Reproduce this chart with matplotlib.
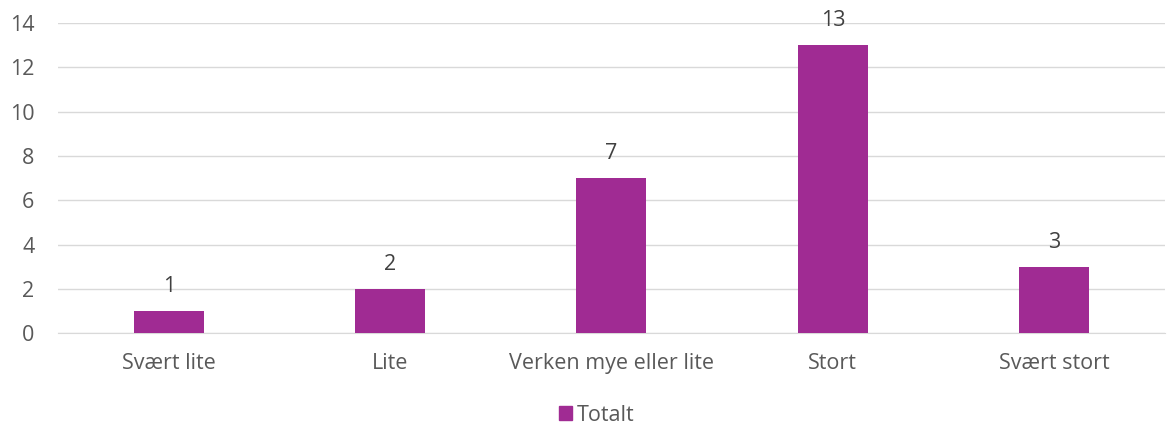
import matplotlib
matplotlib.use("Agg")
import matplotlib.pyplot as plt
from matplotlib.patches import Patch

categories = ["Svært lite", "Lite", "Verken mye eller lite", "Stort", "Svært stort"]
totalt = [1, 2, 7, 13, 3]
yticks = [0, 2, 4, 6, 8, 10, 12, 14]

purple = "#A02B93"
grey = "#595959"

plt.rcParams['font.family'] = ['Open Sans', 'DejaVu Sans']

fig = plt.figure(figsize=(11.7, 4.26), dpi=100)
ax = fig.add_axes([0.0496, 0.218, 0.946, 0.728])

x = range(len(categories))
bars = ax.bar(x, totalt, width=0.316, color=purple, zorder=3)
for b, v in zip(bars, totalt):
    ax.text(b.get_x() + b.get_width() / 2, v + 1.1, str(v), ha='center', va='center',
            fontsize=15.5, color="#404040")

ax.set_xlim(-0.5, len(categories) - 0.5)
ax.set_ylim(0, 14)
ax.set_yticks(yticks)
ax.yaxis.grid(True, color="#D9D9D9", linewidth=1, zorder=0)
ax.set_xticks(list(x))
ax.set_xticklabels(categories)
ax.tick_params(axis='both', length=0, labelsize=15.5, labelcolor=grey)
ax.tick_params(axis='x', pad=14)
ax.tick_params(axis='y', pad=17)
for s in ['top', 'right', 'left']:
    ax.spines[s].set_visible(False)
ax.spines['bottom'].set_color("#D9D9D9")

fig.legend(handles=[Patch(color=purple, label="Totalt")], loc='center',
           bbox_to_anchor=(0.51, 0.025), frameon=False, fontsize=15.5,
           handlelength=0.6, handleheight=0.6, handletextpad=0.2,
           labelcolor=grey)

fig.savefig("out.png", dpi=100)
